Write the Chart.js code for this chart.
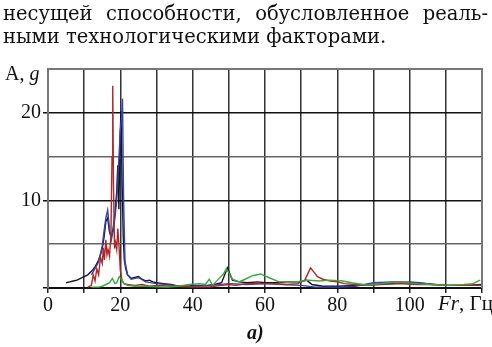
<!DOCTYPE html>
<html><head><meta charset="utf-8">
<script src="https://cdn.jsdelivr.net/npm/chart.js@4/dist/chart.umd.min.js"></script>
<style>
html,body{margin:0;padding:0;background:#fff;width:492px;height:347px;overflow:hidden;}
#wrap{position:absolute;left:0;top:0;width:492px;height:347px;}
.t{position:absolute;font-family:"DejaVu Serif",serif;color:#111;white-space:nowrap;}
#p1{left:3px;top:2px;width:485px;font-size:19.5px;text-align:justify;text-align-last:justify;white-space:normal;}
#p2{left:3px;top:25px;font-size:19.5px;}
#ya{left:5px;top:62px;font-size:20px;font-family:"Liberation Serif",serif;}
#xa{left:438px;top:291px;font-size:21px;font-family:"Liberation Serif",serif;}
#cap{left:247px;top:321px;font-size:20px;font-weight:bold;font-style:italic;font-family:"Liberation Serif",serif;}
</style></head>
<body>
<div id="wrap"><canvas id="c" width="492" height="347"></canvas></div>
<div class="t" id="p1">несущей способности, обусловленное реаль-</div>
<div class="t" id="p2">ными технологическими факторами.</div>
<div class="t" id="ya">A, <i>g</i></div>
<div class="t" id="xa"><i>Fr</i>, Гц</div>
<div class="t" id="cap">a)</div>
<script>
// Black series
const blackF = [5,6,7,8,9,10,11,12,13,14,14.5,15,15.5,16,16.5,17,17.5,18,18.5,19,19.3,19.6,19.9,20.2,20.5,20.8,21.1,21.5,22,22.5,23,24,25,26,27,28,29,30,32,34,36,38,40,42,44,46,48,49.6,51,53,55,58,60,63,66,70,71.5,73,76,80,85,90,95,100,105,110,115,120];
const blackV = [0.6,0.7,0.8,0.9,1.1,1.3,1.5,1.9,2.4,3.2,3.8,4.5,5.8,7.6,8.0,6.4,5.8,6.8,8.5,11,14,9,17,20.2,12,6,3.2,2.2,1.5,1.3,1.1,1.2,1.3,1.0,0.8,0.9,0.7,0.6,0.5,0.4,0.2,0.15,0.3,0.3,0.3,0.4,0.6,2.3,0.9,0.7,0.6,0.7,0.6,0.6,0.7,0.7,0.9,0.4,0.2,0.2,0.3,0.4,0.5,0.6,0.5,0.3,0.3,0.4];
// Blue series
const blueF = [12,13,14,15,15.5,16,16.5,17,17.5,18,18.5,19,19.5,20,20.4,20.6,20.9,21.3,22,23,25,27,30,35,40,45,50,55,60,65,70,74,80,85,90,95,100,103,106,110,115,120];
const blueV = [1.5,2.2,3,4.8,6.5,8,8.9,6.8,5.5,6.5,8,10,14,18,19.5,21.6,10,3,1.5,1,1.2,0.7,0.5,0.3,0.2,0.3,0.5,0.4,0.5,0.4,0.3,0.1,0.1,0.2,0.6,0.7,0.7,0.6,0.4,0.3,0.3,0.3];
// Red series
const redF = [11,12,12.5,13,13.5,14,14.5,15,15.3,15.6,16,16.3,16.6,17,17.4,17.7,17.9,18.1,18.4,18.7,19,19.3,19.6,20,20.5,21,22,24,26,28,30,35,40,45,48,50,52,55,58,62,66,69,71,72.6,74.5,76,78,80,82,85,88,92,97,102,106,111,115,119.5];
const redV = [0.1,0.3,1.5,0.8,2.2,1.5,3.5,2.8,4.6,3.2,5.5,3.8,4.4,3.6,6,15,23.1,12,4.5,5.2,4.4,6.8,5,2,0.8,0.5,0.4,0.3,0.4,0.2,0.3,0.2,0.1,0.15,0.3,0.4,0.3,0.5,0.5,0.5,0.4,0.5,0.9,2.3,1.3,1.0,0.8,0.7,0.5,0.4,0.3,0.4,0.5,0.4,0.4,0.3,0.3,0.3];
// Green series
const greenF = [12,14,15,16,17,17.8,18.5,19,19.7,20.5,21,22,24,27,30,33,36,39,42,43.5,44.6,45.5,47.3,48.5,49.3,50.2,51,52.8,54.5,56.5,58.8,61,63.9,66,69.4,72,75,78,81.5,84,88,92,97,102,106,111,115,117.5,119.5];
const greenV = [0.1,0.1,0.2,0.4,0.6,1.1,0.5,0.6,1.3,0.9,0.5,0.3,0.2,0.2,0.15,0.1,0.2,0.4,0.5,0.4,1.0,0.3,1.1,1.6,2.2,1.6,1.0,0.7,1.0,1.4,1.6,1.2,0.7,0.7,0.75,0.9,0.8,0.9,0.8,0.6,0.35,0.5,0.7,0.5,0.4,0.3,0.4,0.5,0.9];
// Ticks
const xLabels = [0,20,40,60,80,100];
const yLabels = [10,20];

function pts(f,v){return f.map((x,i)=>({x:x,y:v[i]}));}
const mk=(f,v,c)=>({data:pts(f,v),borderColor:c,borderWidth:1.4,pointRadius:0,tension:0,fill:false});

new Chart(document.getElementById('c'),{
  type:'line',
  data:{datasets:[
    mk(greenF,greenV,'#3aa83a'),
    mk(redF,redV,'#b02828'),
    mk(blueF,blueV,'#3344b0'),
    mk(blackF,blackV,'#141428')
  ]},
  options:{
    responsive:false,animation:false,
    layout:{padding:{left:0,top:69,right:10,bottom:0}},
    plugins:{legend:{display:false},tooltip:{enabled:false}},
    scales:{
      x:{type:'linear',min:0,max:120,
        afterFit:s=>{s.height=59;},
        ticks:{stepSize:10,autoSkip:false,maxRotation:0,padding:1,color:'#111',
          font:{family:'Liberation Serif',size:20},
          callback:v=>xLabels.includes(v)?String(v):''},
        grid:{color:'#333',lineWidth:1.5,tickLength:5,tickColor:'#222'},
        border:{color:'#111',width:2}
      },
      y:{min:0,max:25,
        afterFit:s=>{s.width=48;},
        ticks:{stepSize:5,padding:2,color:'#111',
          font:{family:'Liberation Serif',size:20},
          callback:v=>yLabels.includes(v)?String(v):''},
        grid:{lineWidth:1.5,tickLength:5,
          color:c=>(c.tick&&(c.tick.value===10||c.tick.value===20))?'#111':'#666',
          tickColor:c=>(c.tick&&(c.tick.value===0||c.tick.value===10||c.tick.value===20))?'#111':'rgba(0,0,0,0)'},
        border:{color:'#777',width:2}
      }
    }
  },
  plugins:[{id:'frame',afterDraw(ch){const a=ch.chartArea,x=ch.ctx;x.save();x.strokeStyle='#777';x.lineWidth=2;
    x.beginPath();x.moveTo(a.left,a.top);x.lineTo(a.right,a.top);x.lineTo(a.right,a.bottom);x.stroke();x.restore();}}]
});
</script>
</body></html>
